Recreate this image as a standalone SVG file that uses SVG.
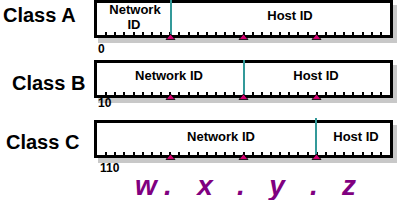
<svg xmlns="http://www.w3.org/2000/svg" xmlns:xlink="http://www.w3.org/1999/xlink" width="399" height="200" viewBox="0 0 399 200">
<style>
.cls{font-family:"Liberation Sans",Arial,sans-serif;font-weight:bold;font-size:20px;fill:#000}
.lbl{font-family:"Liberation Sans",Arial,sans-serif;font-weight:bold;font-size:13px;fill:#000;text-anchor:middle}
.num{font-family:"Liberation Sans",Arial,sans-serif;font-weight:bold;font-size:12px;fill:#000}
.oct{font-family:"Liberation Sans",Arial,sans-serif;font-weight:bold;font-style:italic;font-size:28px;fill:#800080;text-anchor:middle}
.box{fill:#fff;stroke:#000;stroke-width:3;shape-rendering:crispEdges}
.shadow{fill:#c8c8c8;shape-rendering:crispEdges}
.div{stroke:#339999;stroke-width:2.5;shape-rendering:crispEdges}
.tri{fill:#d0006f;stroke:#000;stroke-width:0.8}
</style>
<defs>
<path id="ticks" d="M105.16 0H389" stroke="#000" stroke-width="3" stroke-dasharray="2 7.156" shape-rendering="crispEdges"/>
<g id="tris">
<path class="tri" d="M166 39.5L170.5 34L175 39.5Z"/>
<path class="tri" d="M239 39.5L243.5 34L248 39.5Z"/>
<path class="tri" d="M312 39.5L316.5 34L321 39.5Z"/>
</g>
</defs>
<rect width="399" height="200" fill="#fff"/>

<g id="classA">
<text class="cls" x="3" y="22">Class A</text>
<rect class="shadow" x="98" y="5" width="299" height="38"/>
<rect class="box" x="95.5" y="1.5" width="296" height="35"/>
<use xlink:href="#ticks" y="33.5"/>
<line class="div" x1="171" y1="0" x2="171" y2="35"/>
<use xlink:href="#tris" y="0"/>
<text class="lbl" x="135" y="14">Network</text>
<text class="lbl" x="134" y="29">ID</text>
<text class="lbl" x="290" y="20">Host ID</text>
<text class="num" x="98" y="53">0</text>
</g>

<g id="classB">
<text class="cls" x="12" y="90">Class B</text>
<rect class="shadow" x="98" y="65" width="299" height="38"/>
<rect class="box" x="95.5" y="61.5" width="296" height="35"/>
<use xlink:href="#ticks" y="93.5"/>
<line class="div" x1="244" y1="60" x2="244" y2="95"/>
<use xlink:href="#tris" y="60"/>
<text class="lbl" x="169" y="80">Network ID</text>
<text class="lbl" x="316" y="80">Host ID</text>
<text class="num" x="98" y="107">10</text>
</g>

<g id="classC">
<text class="cls" x="6" y="149">Class C</text>
<rect class="shadow" x="98" y="125" width="299" height="38"/>
<rect class="box" x="95.5" y="121.5" width="296" height="35"/>
<use xlink:href="#ticks" y="153.5"/>
<line class="div" x1="316" y1="118" x2="316" y2="155"/>
<use xlink:href="#tris" y="120"/>
<text class="lbl" x="221" y="141">Network ID</text>
<text class="lbl" x="356" y="141">Host ID</text>
<text class="num" x="100" y="172">110</text>
</g>

<g id="octets">
<text class="oct" x="146" y="195">w</text>
<text class="oct" x="168" y="195">.</text>
<text class="oct" x="205" y="195">x</text>
<text class="oct" x="241" y="195">.</text>
<text class="oct" x="277" y="195">y</text>
<text class="oct" x="314" y="195">.</text>
<text class="oct" x="349" y="195">z</text>
</g>
</svg>
